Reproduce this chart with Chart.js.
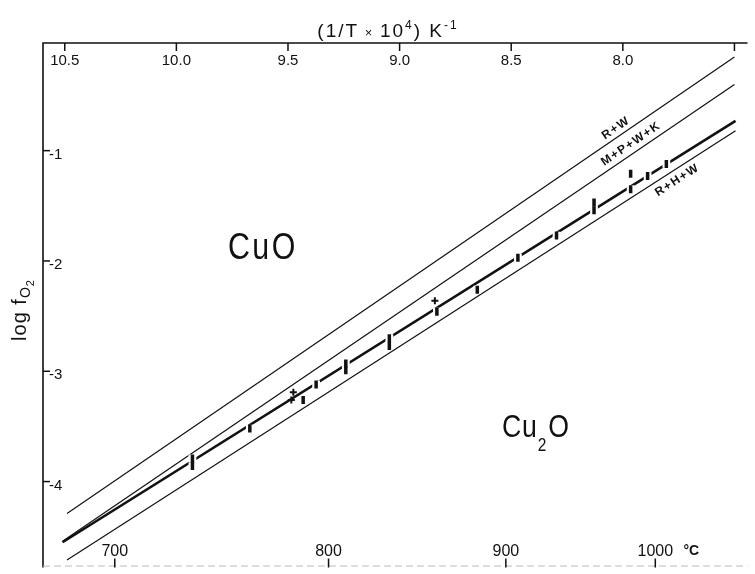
<!DOCTYPE html>
<html>
<head>
<meta charset="utf-8">
<script src="https://cdn.jsdelivr.net/npm/chart.js@4.4.1/dist/chart.umd.min.js"></script>
<style>
html, body { margin:0; padding:0; background:#fff; overflow:hidden; }
#wrap { width:755px; height:574px; }
</style>
</head>
<body>
<div id="wrap"><canvas id="chart" width="755" height="574"></canvas></div>
<script>
// Axis ticks
const invTTicks = [10.5, 10.0, 9.5, 9.0, 8.5, 8.0, 7.5];
const invTLabels = ["10.5", "10.0", "9.5", "9.0", "8.5", "8.0", ""];
const tempTicks = [700, 800, 900, 1000];
const logTicks = [-1, -2, -3, -4];

// Boundary lines (x = 1/T*10^4, y = log fO2), two ends each
const rwX = [10.49, 7.50];
const rwY = [-4.29, -0.15];
const mpwkX = [10.51, 7.50];
const mpwkY = [-4.54, -0.40];
const fitX = [10.51, 7.495];
const fitY = [-4.55, -0.73];
const rhwX = [10.49, 7.495];
const rhwY = [-4.71, -0.82];

// Measured points
const markX = [9.928, 9.928, 9.671, 9.432, 9.374, 9.241, 9.241, 9.046, 9.046, 8.833, 8.652, 8.470, 8.297, 8.129, 8.129, 7.965, 7.965, 7.889, 7.805];
const markY = [-3.79, -3.86, -3.52, -3.26, -3.12, -2.93, -2.99, -2.70, -2.77, -2.46, -2.26, -1.97, -1.77, -1.47, -1.54, -1.35, -1.21, -1.23, -1.12];
const crossX = [9.476, 9.485, 8.842];
const crossY = [-3.19, -3.26, -2.36];

// Line names and where along x they are written
const lineNames = ["R+W", "M+P+W+K", "R+H+W"];
const lineNameAt = [8.01, 7.94, 7.78];

function pts(xs, ys){
	return xs.map((v, i) => ({x: v, y: ys[i]}));
}

const FONT = '"Liberation Sans", Arial, sans-serif';

function lineDs(xs, ys, w){
	return {
		data: pts(xs, ys),
		showLine: true,
		borderColor: '#111',
		borderWidth: w,
		pointRadius: 0,
		fill: false,
		order: 3
	};
}

// draw axes, labels and names on the paper
const paper = {
	id: 'paper',
	afterDraw(chart){
		const ctx = chart.ctx;
		const a = chart.chartArea;
		const x = chart.scales.x, y = chart.scales.y;
		ctx.save();
		ctx.strokeStyle = '#111';
		ctx.fillStyle = '#111';

		// top and left axis lines
		ctx.lineWidth = 1.6;
		ctx.beginPath();
		ctx.moveTo(a.left, a.bottom + 1);
		ctx.lineTo(a.left, a.top);
		ctx.lineTo(a.right, a.top);
		ctx.stroke();

		// bottom axis, faint
		ctx.save();
		ctx.setLineDash([7, 4]);
		ctx.lineWidth = 1;
		ctx.strokeStyle = '#bbb';
		ctx.beginPath();
		ctx.moveTo(a.left, a.bottom - 0.5);
		ctx.lineTo(a.right, a.bottom - 0.5);
		ctx.stroke();
		ctx.restore();

		// top ticks
		ctx.font = '15px ' + FONT;
		ctx.textAlign = 'center';
		ctx.textBaseline = 'middle';
		ctx.lineWidth = 1.5;
		invTTicks.forEach((v, i) => {
			const px = x.getPixelForValue(v);
			ctx.beginPath();
			ctx.moveTo(px, a.top);
			ctx.lineTo(px, a.top + 8);
			ctx.stroke();
			ctx.fillText(invTLabels[i], px, a.top + 18);
		});

		// bottom ticks in degrees C
		ctx.font = '16px ' + FONT;
		tempTicks.forEach(t => {
			const px = x.getPixelForValue(1e4 / (t + 273.15));
			ctx.beginPath();
			ctx.moveTo(px, a.bottom - 8);
			ctx.lineTo(px, a.bottom + 1);
			ctx.stroke();
			ctx.fillText(String(t), px, a.bottom - 15);
		});
		ctx.font = 'bold 14px ' + FONT;
		ctx.fillText('°C', x.getPixelForValue(1e4 / (1000 + 273.15)) + 36, a.bottom - 15);

		// left ticks
		ctx.font = '15px ' + FONT;
		ctx.textAlign = 'left';
		logTicks.forEach(v => {
			const py = y.getPixelForValue(v);
			ctx.beginPath();
			ctx.moveTo(a.left, py);
			ctx.lineTo(a.left + 7, py);
			ctx.stroke();
			ctx.fillText('-' + Math.abs(v), a.left + 6, py + 4);
		});

		// left title: log fO2
		ctx.save();
		ctx.translate(20, 310);
		ctx.rotate(-Math.PI / 2);
		ctx.textAlign = 'left';
		ctx.textBaseline = 'alphabetic';
		ctx.letterSpacing = '1px';
		ctx.font = '20px ' + FONT;
		const w1 = ctx.measureText('log f').width;
		ctx.font = '14px ' + FONT;
		const w2 = ctx.measureText('O').width;
		ctx.font = '11px ' + FONT;
		const w3 = ctx.measureText('2').width;
		let sx = -(w1 + w2 + w3) / 2;
		ctx.font = '20px ' + FONT;
		ctx.fillText('log f', sx, 6);
		ctx.font = '14px ' + FONT;
		ctx.fillText('O', sx + w1, 10);
		ctx.font = '11px ' + FONT;
		ctx.fillText('2', sx + w1 + w2, 14);
		ctx.restore();

		// top title
		ctx.save();
		ctx.textAlign = 'left';
		ctx.textBaseline = 'alphabetic';
		ctx.letterSpacing = '2px';
		const parts = [['(1/T', 19, 0], [' × ', 13, 0], ['10', 19, 0], ['4', 12, -8], [') K', 19, 0], ['-1', 12, -8]];
		let tw = 0;
		parts.forEach(p => { ctx.font = p[1] + 'px ' + FONT; tw += ctx.measureText(p[0]).width; });
		let tx = 388 - tw / 2;
		parts.forEach(p => {
			ctx.font = p[1] + 'px ' + FONT;
			ctx.fillText(p[0], tx, 37 + p[2]);
			tx += ctx.measureText(p[0]).width;
		});
		ctx.restore();

		// phase fields
		ctx.save();
		ctx.textBaseline = 'alphabetic';
		ctx.textAlign = 'left';
		ctx.letterSpacing = '3px';
		ctx.translate(228, 259);
		ctx.scale(0.82, 1);
		ctx.font = '37px ' + FONT;
		ctx.fillText('CuO', 0, 0);
		ctx.restore();

		ctx.save();
		ctx.textBaseline = 'alphabetic';
		ctx.textAlign = 'left';
		ctx.letterSpacing = '1px';
		ctx.translate(502, 437);
		ctx.scale(0.86, 1);
		ctx.font = '31px ' + FONT;
		ctx.fillText('Cu', 0, 0);
		const cw = ctx.measureText('Cu').width;
		ctx.font = '18px ' + FONT;
		ctx.fillText('2', cw, 14);
		const dw = ctx.measureText('2').width;
		ctx.font = '31px ' + FONT;
		ctx.fillText('O', cw + dw + 1, 0);
		ctx.restore();

		// names written along the lines
		const lines = [[rwX, rwY, -8], [mpwkX, mpwkY, -9], [rhwX, rhwY, 10]];
		ctx.font = 'bold 12px ' + FONT;
		ctx.textAlign = 'center';
		ctx.textBaseline = 'middle';
		lines.forEach((ln, i) => {
			const xs = ln[0], ys = ln[1];
			const v = lineNameAt[i];
			const lv = ys[0] + (v - xs[0]) * (ys[1] - ys[0]) / (xs[1] - xs[0]);
			const p0x = x.getPixelForValue(xs[0]), p0y = y.getPixelForValue(ys[0]);
			const p1x = x.getPixelForValue(xs[1]), p1y = y.getPixelForValue(ys[1]);
			const ang = Math.atan2(p1y - p0y, p1x - p0x);
			ctx.save();
			ctx.translate(x.getPixelForValue(v), y.getPixelForValue(lv));
			ctx.rotate(ang);
			ctx.letterSpacing = '1.5px';
			ctx.fillText(lineNames[i], 0, ln[2]);
			ctx.restore();
		});

		ctx.restore();
	}
};

new Chart(document.getElementById('chart'), {
	type: 'scatter',
	data: {
		datasets: [
			lineDs(rwX, rwY, 1.2),
			lineDs(mpwkX, mpwkY, 1.2),
			lineDs(fitX, fitY, 2.6),
			lineDs(rhwX, rhwY, 1.2),
			// white gap in the fitted line round each point
			{
				data: pts(markX, markY),
				pointStyle: 'rect',
				pointRadius: 5.5,
				backgroundColor: '#fff',
				borderWidth: 0,
				order: 2
			},
			{
				data: pts(markX, markY),
				pointStyle: 'line',
				pointRotation: 90,
				pointRadius: 4,
				borderColor: '#111',
				borderWidth: 3.5,
				order: 0
			},
			{
				data: pts(crossX, crossY),
				pointStyle: 'cross',
				pointRadius: 3.5,
				borderColor: '#111',
				borderWidth: 2,
				order: 0
			}
		]
	},
	options: {
		responsive: false,
		animation: false,
		layout: { padding: { left: 43, top: 43, right: 0, bottom: 1 } },
		plugins: {
			legend: { display: false },
			tooltip: { enabled: false }
		},
		scales: {
			x: { type: 'linear', reverse: true, min: 7.4415, max: 10.5975, display: false },
			y: { type: 'linear', min: -4.77, max: -0.024, display: false }
		}
	},
	plugins: [paper]
});
</script>
</body>
</html>
